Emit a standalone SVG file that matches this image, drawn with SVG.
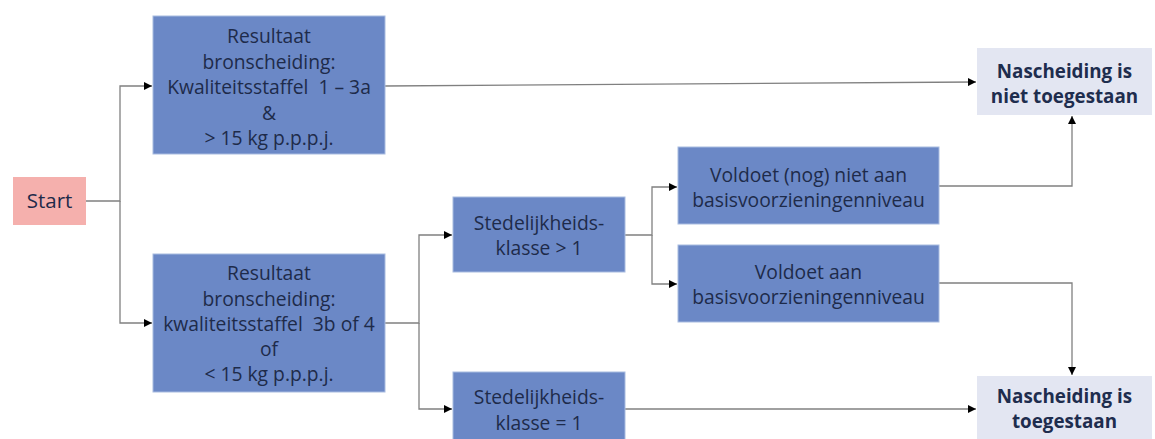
<svg xmlns="http://www.w3.org/2000/svg" width="1155" height="439" viewBox="0 0 1155 439">
<defs>
<style>
.b{fill:#6B88C6;stroke:#A8BBE0;stroke-width:1}
.s{fill:#F5B0AD}
.t{fill:#E3E6F2}
text{font-family:"Open Sans","Noto Sans",sans-serif;font-size:19.3px;fill:#1E2B4A;text-anchor:middle}
.bold{font-weight:bold;font-size:18.8px;fill:#1E2D4E}
.c{fill:none;stroke:#808080;stroke-width:1.3}
</style>
<marker id="a" viewBox="0 0 10 10" refX="10" refY="5" markerWidth="8" markerHeight="8" markerUnits="userSpaceOnUse" orient="auto"><path d="M0,0 L10,5 L0,10 z" fill="#000"/></marker>
</defs>
<g id="connectors">
<path class="c" d="M86,201 H120 V86 H152" marker-end="url(#a)"/>
<path class="c" d="M120,201 V323 H152" marker-end="url(#a)"/>
<path class="c" d="M385,86 L976,82" marker-end="url(#a)"/>
<path class="c" d="M385,323 H419 V235 H452" marker-end="url(#a)"/>
<path class="c" d="M419,323 V409 H452" marker-end="url(#a)"/>
<path class="c" d="M625,235 H652 V187 H677" marker-end="url(#a)"/>
<path class="c" d="M652,235 V284 H677" marker-end="url(#a)"/>
<path class="c" d="M939,186 H1072 V116" marker-end="url(#a)"/>
<path class="c" d="M939,283 H1072 V375" marker-end="url(#a)"/>
<path class="c" d="M625,409 H976" marker-end="url(#a)"/>
</g>
<g id="start">
<rect class="s" x="13" y="177" width="73" height="48"/>
<text x="49.5" y="208" style="font-size:20.5px">Start</text>
</g>
<g id="box1">
<rect class="b" x="153" y="16" width="232" height="138"/>
<text x="269" y="43">Resultaat</text>
<text x="269" y="69">bronscheiding:</text>
<text x="269" y="94" xml:space="preserve">Kwaliteitsstaffel  1 – 3a</text>
<text x="269" y="120">&amp;</text>
<text x="269" y="145">&gt; 15 kg p.p.p.j.</text>
</g>
<g id="box2">
<rect class="b" x="153" y="254" width="232" height="138"/>
<text x="269" y="280">Resultaat</text>
<text x="269" y="306">bronscheiding:</text>
<text x="269" y="331" xml:space="preserve">kwaliteitsstaffel  3b of 4</text>
<text x="269" y="356">of</text>
<text x="269" y="381">&lt; 15 kg p.p.p.j.</text>
</g>
<g id="sted1">
<rect class="b" x="453" y="197" width="172" height="75"/>
<text x="539" y="230">Stedelijkheids-</text>
<text x="539" y="255">klasse &gt; 1</text>
</g>
<g id="sted2">
<rect class="b" x="453" y="372" width="172" height="75"/>
<text x="539" y="404">Stedelijkheids-</text>
<text x="539" y="430">klasse = 1</text>
</g>
<g id="voldoet-niet">
<rect class="b" x="678" y="147" width="261" height="77"/>
<text x="808.5" y="182">Voldoet (nog) niet aan</text>
<text x="808.5" y="207">basisvoorzieningenniveau</text>
</g>
<g id="voldoet">
<rect class="b" x="678" y="245" width="261" height="77"/>
<text x="808.5" y="279">Voldoet aan</text>
<text x="808.5" y="304">basisvoorzieningenniveau</text>
</g>
<g id="niet-toegestaan">
<rect class="t" x="977" y="48" width="175" height="67"/>
<text class="bold" x="1064.5" y="78">Nascheiding is</text>
<text class="bold" x="1064.5" y="103">niet toegestaan</text>
</g>
<g id="toegestaan">
<rect class="t" x="977" y="376" width="175" height="70"/>
<text class="bold" x="1064.5" y="403">Nascheiding is</text>
<text class="bold" x="1064.5" y="428">toegestaan</text>
</g>
</svg>
